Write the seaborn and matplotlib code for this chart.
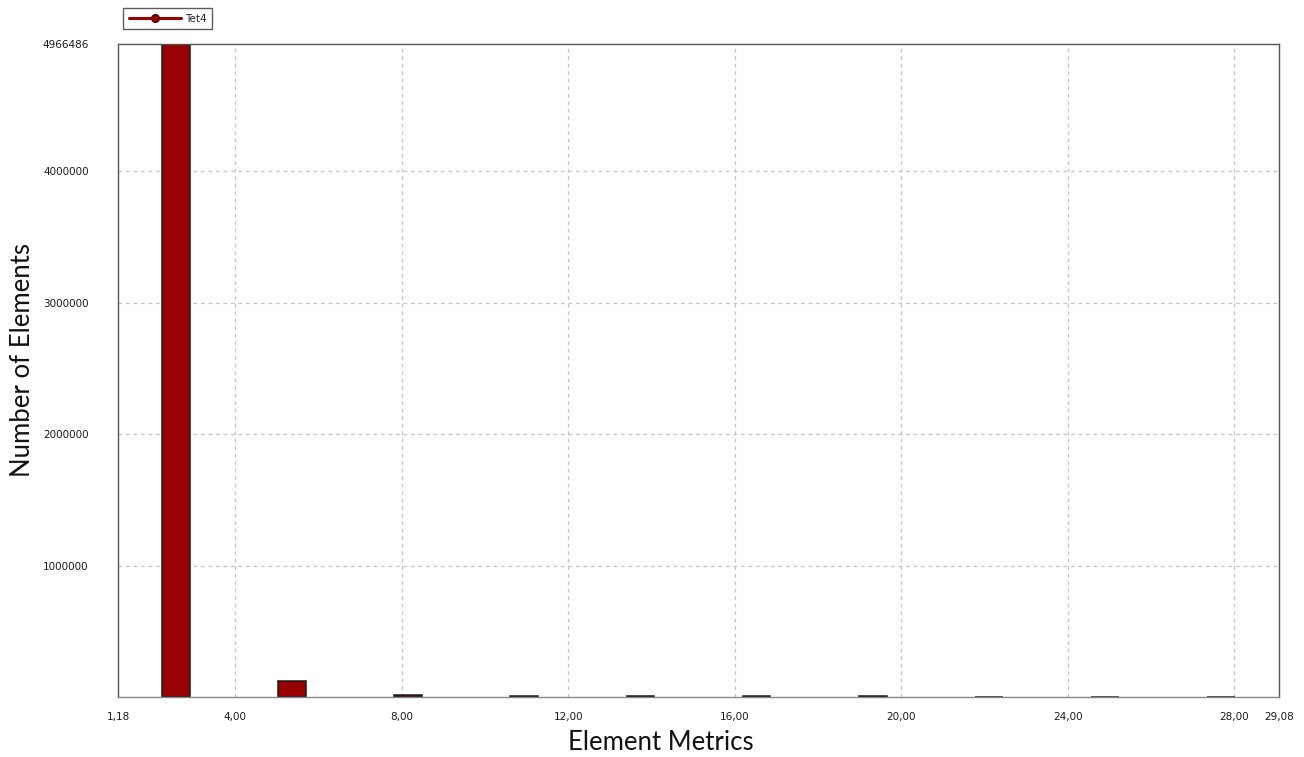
import matplotlib
matplotlib.use("Agg")
import matplotlib.pyplot as plt
from matplotlib.lines import Line2D
import seaborn as sns
import numpy as np
import pandas as pd

# ---- data ----
metric_min = 1.18
metric_max = 29.08
n_bins = 10
counts = [4966486, 119000, 18000, 6000, 5000, 4500, 4000, 3500, 3000, 3000]
x_tick_values = [1.18, 4.0, 8.0, 12.0, 16.0, 20.0, 24.0, 28.0, 29.08]
x_tick_labels = ["1,18", "4,00", "8,00", "12,00", "16,00", "20,00", "24,00", "28,00", "29,08"]
y_tick_values = [1000000, 2000000, 3000000, 4000000, 4966486]
y_tick_labels = ["1000000", "2000000", "3000000", "4000000", "4966486"]
series_name = "Tet4"

edges = np.linspace(metric_min, metric_max, n_bins + 1)
centers = (edges[:-1] + edges[1:]) / 2
df = pd.DataFrame({"metric": centers, "count": counts})

sns.set_style("white")
plt.rcParams["font.family"] = ["DejaVu Sans"]

fig = plt.figure(figsize=(13.04, 7.57), dpi=100)
ax = fig.add_axes([118/1304, 1-697/757, (1279-118)/1304, (697-44)/757])

bar_color = "#990000"
sns.histplot(data=df, x="metric", weights="count", bins=n_bins,
             binrange=(metric_min, metric_max), shrink=0.24,
             color=bar_color, alpha=1, edgecolor="#1a1a1a", linewidth=1.1, ax=ax)

ax.set_xlim(metric_min, metric_max)
ax.set_ylim(0, max(counts))
ax.set_xticks(x_tick_values)
ax.set_xticklabels(x_tick_labels, fontsize=7.5, color="#1a1a1a")
ax.set_yticks(y_tick_values)
ax.set_yticklabels(y_tick_labels, fontsize=7.5, color="#1a1a1a")
ax.tick_params(axis="x", direction="out", length=6, width=0.8, color="#999999", pad=5)
ax.tick_params(axis="y", direction="out", length=6, width=0.8, color="#999999", pad=15)

for v in x_tick_values[1:-1]:
    ax.axvline(v, color="#c4c4c4", linestyle=(0, (3, 3)), linewidth=0.9, zorder=0)
for v in y_tick_values[:-1]:
    ax.axhline(v, color="#c4c4c4", linestyle=(0, (3, 3)), linewidth=0.9, zorder=0)

for s in ax.spines.values():
    s.set_color("#555555")
    s.set_linewidth(1.0)
ax.spines["bottom"].set_color("#888888")

ax.set_xlabel("Element Metrics", fontsize=18.5, family="Lato", color="#111111")
ax.set_ylabel("Number of Elements", fontsize=18.5, family="Lato", color="#111111")
ax.xaxis.label.set_verticalalignment("center")
ax.yaxis.label.set_verticalalignment("center")
ax.xaxis.set_label_coords((661-118)/1161, -(743-697)/653)
ax.yaxis.set_label_coords((23-118)/1161, (697-360)/653)

handle = Line2D([0], [0], color=bar_color, linewidth=2.2, marker="o", markersize=5.5,
                markerfacecolor=bar_color, markeredgecolor="#550000")
leg = fig.legend([handle], [series_name], loc="upper left",
                 bbox_to_anchor=(123/1304, 1-8/757), fontsize=7.5, frameon=True,
                 fancybox=False, edgecolor="#333333", handlelength=5.0,
                 borderpad=0.55, handletextpad=0.4, borderaxespad=0)
leg.get_frame().set_linewidth(1.0)

fig.savefig("out.png", dpi=100)
